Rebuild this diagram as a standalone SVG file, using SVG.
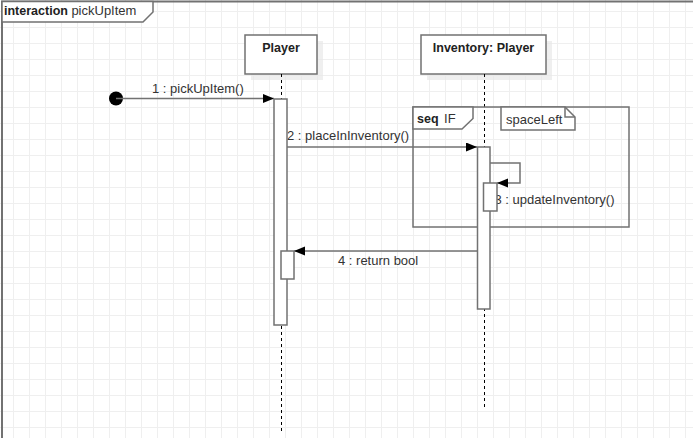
<svg xmlns="http://www.w3.org/2000/svg" width="693" height="438" viewBox="0 0 693 438">
<defs>
<pattern id="grid" x="13" y="11" width="16" height="16" patternUnits="userSpaceOnUse">
<rect x="0" y="0" width="1" height="16" fill="#efefef"/>
<rect x="0" y="0" width="16" height="1" fill="#efefef"/>
</pattern>
<marker id="arr" markerUnits="userSpaceOnUse" markerWidth="12" markerHeight="10" refX="11" refY="4.5" orient="auto">
<path d="M0,0 L11,4.5 L0,9 z" fill="#000"/>
</marker>
<style>
.ln{stroke:#727272;stroke-width:1.5;fill:#fff}
.msg{stroke:#727272;stroke-width:1.5;fill:none}
.life{stroke:#000;stroke-width:1;stroke-dasharray:3,3;fill:none}
.sh{fill:#e8e8e8;opacity:0.7}
.t{font-family:"Liberation Sans",Arial,sans-serif;font-size:13px;font-weight:normal;fill:#333}
.b{font-family:"Liberation Sans",Arial,sans-serif;font-size:12.5px;font-weight:bold;fill:#222}
</style>
</defs>
<rect width="693" height="438" fill="#fff"/>
<rect width="693" height="438" fill="url(#grid)"/>

<g id="frame">
<path d="M2,440 V1.5 H695" fill="none" stroke="#727272" stroke-width="2"/>
<path d="M2,1.5 H153 V12 L143,22 H2 Z" class="ln"/>
<text x="4" y="15" class="b">interaction <tspan class="t">pickUpItem</tspan></text>
</g>

<g id="player">
<rect x="251" y="41" width="72" height="39" class="sh"/>
<rect x="245" y="35" width="72" height="39" class="ln"/>
<text x="281" y="52" class="b" text-anchor="middle">Player</text>
<line x1="281.5" y1="74" x2="281.5" y2="432" class="life"/>
</g>

<g id="inventory">
<rect x="427" y="41" width="125" height="39" class="sh"/>
<rect x="421" y="35" width="125" height="39" class="ln"/>
<text x="483.5" y="52" class="b" text-anchor="middle">Inventory: Player</text>
<line x1="484.5" y1="74" x2="484.5" y2="408" class="life"/>
</g>

<g id="seqIF">
<rect x="413" y="107" width="216" height="120" fill="none" stroke="#727272" stroke-width="1.5"/>
<path d="M413,107 H473 V118.5 L462,129 H413 Z" class="ln"/>
<text x="417" y="123" class="b">seq <tspan class="t" dx="2">IF</tspan></text>
</g>

<g id="note">
<path d="M501,107 H565 L575,117 V130 H501 Z" class="ln"/>
<path d="M565,107 V117 H575" fill="none" stroke="#727272" stroke-width="1.5"/>
<text x="506" y="123.5" class="t">spaceLeft</text>
</g>

<g id="start">
<circle cx="116" cy="98.5" r="7" fill="#000"/>
</g>

<g id="connectors">
<line x1="116" y1="98.5" x2="274" y2="98.5" class="msg" marker-end="url(#arr)"/>
<text x="152" y="93" class="t">1 : pickUpItem()</text>
<line x1="287" y1="147" x2="477" y2="147" class="msg" marker-end="url(#arr)"/>
<text x="287" y="140" class="t">2 : placeInInventory()</text>
<path d="M490,163 H520 V183 H497" class="msg" marker-end="url(#arr)"/>
<text x="494.5" y="204" class="t">3 : updateInventory()</text>
<line x1="477" y1="251" x2="294" y2="251" class="msg" marker-end="url(#arr)"/>
<text x="338" y="264.5" class="t">4 : return bool</text>
</g>

<g id="activations">
<rect x="274" y="99" width="13" height="226" class="ln"/>
<rect x="281" y="251" width="13" height="28" class="ln"/>
<rect x="477.5" y="147" width="12.5" height="162" class="ln"/>
<rect x="483.5" y="183" width="13.5" height="28" class="ln"/>
</g>
</svg>
